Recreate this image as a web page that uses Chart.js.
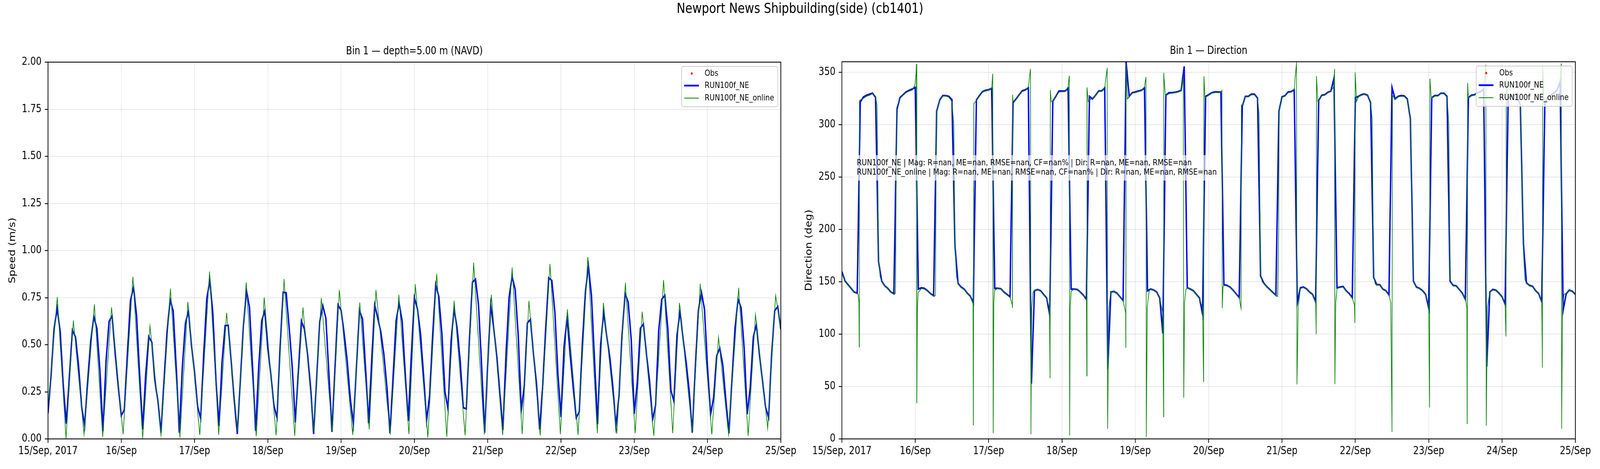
<!DOCTYPE html>
<html><head><meta charset="utf-8">
<script src="https://cdn.jsdelivr.net/npm/chart.js@4.4.1/dist/chart.umd.min.js"></script>
<style>
html,body{margin:0;padding:0;background:#fff;overflow:hidden;width:100vw;height:100vh;}
#wrap{position:absolute;left:0;top:0;width:5000px;height:1200px;overflow:hidden;background:#fff;transform-origin:0 0;}
#sup{position:absolute;left:0;top:0;width:5000px;text-align:center;font-family:'DejaVu Sans';font-size:36px;line-height:42px;color:#000;}
canvas{position:absolute;top:0;}
</style></head><body>
<div id="wrap">
<canvas id="c1" width="2500" height="1200" style="left:0"></canvas>
<canvas id="c2" width="2500" height="1200" style="left:2500px"></canvas>
<div id="sup">Newport News Shipbuilding(side) (cb1401)</div>
</div>
<script>
// ---------------- DATA ----------------
const dayLabels = ["15/Sep, 2017","16/Sep","17/Sep","18/Sep","19/Sep","20/Sep","21/Sep","22/Sep","23/Sep","24/Sep","25/Sep"];
const speedTicks = [0,0.25,0.5,0.75,1.0,1.25,1.5,1.75,2.0];
const dirTicks = [0,50,100,150,200,250,300,350];
const seriesNames = ["Obs","RUN100f_NE","RUN100f_NE_online"];
const statsLines = [
 "RUN100f_NE | Mag: R=nan, ME=nan, RMSE=nan, CF=nan% | Dir: R=nan, ME=nan, RMSE=nan",
 "RUN100f_NE_online | Mag: R=nan, ME=nan, RMSE=nan, CF=nan% | Dir: R=nan, ME=nan, RMSE=nan"
];
// Obs: no valid observations (all NaN)
const obsSpeed = [];
const obsDir = [];
// RUN100f_NE speed (m/s), hourly from 15/Sep 00:00
const speedRun100fNE = [
0.137,0.34,0.586,0.693,0.568,0.282,0.081,0.33,0.577,0.541,0.39,0.171,0.071,0.31,0.52,0.649,0.587,0.365,0.04,0.41,
0.624,0.653,0.454,0.28,0.124,0.154,0.45,0.734,0.805,0.655,0.344,0.05,0.344,0.543,0.513,0.31,0.2,0.033,0.31,0.57,
0.739,0.679,0.378,0.033,0.38,0.613,0.679,0.496,0.35,0.171,0.109,0.45,0.744,0.841,0.662,0.31,0.068,0.41,0.601,0.603,
0.41,0.206,0.026,0.31,0.6,0.789,0.696,0.38,0.043,0.38,0.627,0.681,0.48,0.34,0.175,0.113,0.48,0.778,0.776,0.586,
0.378,0.088,0.36,0.625,0.582,0.448,0.275,0.026,0.323,0.624,0.707,0.641,0.344,0.037,0.378,0.711,0.682,0.558,0.413,0.213,
0.078,0.378,0.681,0.637,0.378,0.083,0.413,0.711,0.641,0.568,0.448,0.275,0.03,0.323,0.627,0.72,0.624,0.344,0.095,0.448,
0.75,0.689,0.558,0.337,0.099,0.233,0.558,0.819,0.755,0.558,0.251,0.159,0.517,0.691,0.586,0.413,0.166,0.159,0.517,0.831,
0.848,0.71,0.392,0.033,0.392,0.711,0.586,0.434,0.24,0.048,0.448,0.751,0.862,0.793,0.551,0.152,0.282,0.615,0.634,0.448,
0.29,0.05,0.275,0.586,0.855,0.841,0.675,0.344,0.116,0.489,0.641,0.448,0.275,0.113,0.144,0.503,0.779,0.918,0.758,0.413,
0.078,0.503,0.672,0.544,0.434,0.275,0.068,0.227,0.551,0.771,0.727,0.53,0.133,0.302,0.587,0.61,0.448,0.31,0.102,0.178,
0.572,0.741,0.762,0.586,0.258,0.199,0.551,0.677,0.53,0.406,0.254,0.033,0.378,0.682,0.778,0.689,0.378,0.13,0.22,0.441,
0.482,0.392,0.206,0.03,0.31,0.586,0.741,0.696,0.482,0.131,0.275,0.541,0.606,0.448,0.31,0.168,0.113,0.448,0.681,0.702,
0.582];
// RUN100f_NE_online speed: [hour, m/s] at turning points
const speedOnline = [
[0,0.16],[3.04,0.753],[5.9,0.002],[8.3,0.629],[11.8,0.023],[15.2,0.715],[17.9,0.011],[20.8,0.698],[24.6,0.024],[27.8,0.861],
[31.0,0.002],[33.4,0.6],[37.0,0.021],[40.1,0.798],[43.2,0.006],[45.8,0.727],[49.7,0.021],[52.9,0.889],[55.9,0.021],[58.5,0.669],
[62.1,0.04],[64.9,0.831],[68.2,0.014],[70.8,0.751],[74.7,0.019],[77.3,0.849],[80.8,0.016],[83.5,0.698],[87.1,0.037],[89.5,0.748],
[93.1,0.037],[95.4,0.791],[99.8,0.021],[102.1,0.724],[105.2,0.05],[107.4,0.791],[112.1,0.023],[114.9,0.765],[118.2,0.026],[120.3,0.822],
[124.4,0.006],[127.3,0.877],[130.6,0.011],[133.0,0.734],[136.6,0.019],[139.4,0.936],[142.9,0.023],[145.2,0.765],[148.9,0.021],[152.0,0.91],
[155.3,0.026],[157.5,0.732],[161.2,0.018],[164.4,0.929],[167.8,0.025],[170.1,0.688],[173.6,0.021],[176.8,0.965],[179.9,0.03],[181.9,0.722],
[186.3,0.028],[189.1,0.829],[192.3,0.031],[194.6,0.675],[198.4,0.016],[201.6,0.843],[204.6,0.031],[206.8,0.722],[211.0,0.037],[213.6,0.824],
[217.4,0.024],[219.6,0.539],[222.9,0.021],[226.2,0.802],[229.3,0.016],[231.7,0.66],[235.7,0.055],[238.3,0.762],[240,0.59]];
// RUN100f_NE direction (deg), hourly from 15/Sep 00:00
const dirRun100fNE = [
159.6,150.7,147.2,143.7,140.2,139.1,321.5,326.2,328,329,330,326.2,168.9,150.7,146.1,143.7,140.2,138.6,314.5,325.7,
328.5,331.1,332.7,333.9,335.5,143,144.2,143.7,141.4,138.6,136.7,312.9,323.4,327.6,327.6,326.9,323.8,183.4,148.4,144.9,
143,139.1,136.3,129.7,323.4,327.6,331.5,332.7,333.2,334.6,143.7,143.7,143.3,140.2,137.9,135.6,321,324.5,328.5,332.2,
333.2,335,52.7,141.4,142.6,141.4,137.9,134.4,118.1,322.2,326.9,332,332,332,334.6,143,143,142.6,140.2,137.2,
133.2,326.9,324.5,328,332,332.2,335,66.7,140.2,140.7,139.1,135.6,132,359.6,326.9,330.4,331.1,332,332.7,335,
141.4,143,142.1,140.2,134.4,100.6,328,330.4,330.4,330.8,331.5,332.7,355.6,144.2,143,141.4,137.9,134.4,119.2,326.9,
328.5,330.4,331.1,331.1,331.1,147.2,146.5,144.9,141.9,138.4,134.9,317.6,326.9,326.9,329,329,325.2,155.4,148.9,145.4,
142.6,139.8,137.2,312.9,326.4,327.6,331.1,331.5,333.2,129.7,144.2,144.9,143.3,140.2,137.9,130.9,322.9,328,328.5,330.8,
332,344.4,144.2,144.9,145.4,141.4,138.6,134.9,325.7,326.9,328.5,329.2,328,321,154.2,147.2,147.2,143,141.4,137.4,
335.5,324.5,326.9,327.6,327.4,324.5,305.9,150.7,144.9,143.7,141.4,137.9,125.1,325.7,327.6,327.6,329.9,329.9,326.9,150.7,
146.5,146.1,142.6,139.1,133.2,325.7,328,328.5,330.4,331.5,334,69,140.2,142.6,141.9,139.1,135.6,128.6,325,327,
328,329,318,185.7,148.9,146.5,145.6,141.4,138.6,130.9,320,326,328,330,333,341,122.7,138.6,141.9,140.9,
137.9];
// RUN100f_NE_online direction: [hour, deg]
const dirOnline = [
[0,158],[1,150],[2,147],[4,140.5],[5.3,138],[5.55,130],[5.66,87.7],[5.72,323],[7,325],[8,327],[9,328],[10,329.5],[11,327],[11.5,318],
[12,172],[12.5,155],[13,150],[14,146],[15,143.5],[16,140],[17,138],[17.5,139],[17.9,316],[19,325],[20,328],[21,330.5],[22,332],[23,333],
[23.9,338],[24.3,350],[24.4,357.9],[24.5,34],[24.7,125],[25,140],[26,143.5],[27,143],[28,141],[29,138.5],[30,136],[30.6,137],[30.9,300],[31,313],
[32,323],[33,327],[34,327.5],[35,326],[36,322],[36.6,300],[37,183],[37.5,155],[38,148],[39,144.5],[40,142.8],[41,139],[42,136],[42.9,130],
[43.0,13],[43.15,320],[44,323],[45,327],[46,331],[47,332],[48,333],[49,335],[49.35,348.6],[49.5,5.6],[49.7,130],[50,142],[51,143.5],[52,143],
[53,140],[54,137.5],[55,135],[55.75,128],[55.8,125],[55.85,328.5],[56,322],[57,324],[58,328],[59,331.5],[60,332.5],[61,336],[61.7,353.2],
[61.85,4.4],[62.1,125],[62.5,140],[63,141.5],[64,142.5],[65,141],[66,137.5],[67,134],[67.9,125],[68.1,57.9],[68.2,333.2],[68.5,322],[69,322],
[70,326.5],[71,331],[72,331.5],[73,331.5],[74,336],[74.4,346.7],[74.5,3.3],[74.7,125],[75,141],[76,143],[77,142.5],[78,140],[79,137],[80,133],
[80.15,60.2],[80.2,335.5],[80.6,322],[81,324],[82,324.5],[83,328],[84,331.5],[85,332],[86,336],[86.8,354.2],[86.95,9.6],[87.3,125],[88,140],
[89,140.5],[90,139],[91,135.5],[92,132],[92.85,120],[92.9,87],[93.0,358],[93.4,324.5],[94,326.5],[95,330],[96,330.5],[97,331.5],[98,332.5],
[99,336],[99.5,345.5],[99.6,1.9],[99.9,125],[100.5,141],[101,142.8],[102,142],[103,140],[104,134],[105,120],[105.25,21.2],[105.3,349.5],
[105.8,328],[106,327.5],[107,329.5],[108,330],[109,330.5],[110,331],[111,333],[111.7,345],[111.85,39.4],[112.1,130],[112.6,143],[113,144],
[114,143],[115,141],[116,137.5],[117,134],[118,125],[118.35,54.4],[118.45,346.2],[118.8,325.7],[119,326],[120,328],[121,330],[122,330.5],
[123,330.5],[124,331],[124.35,332.7],[124.45,124.6],[124.7,145],[125,146.5],[126,146],[127,144.5],[128,141.5],[129,138],[130,134.5],
[130.6,124.6],[130.7,318.7],[131,318],[132,326.5],[133,326.5],[134,328.5],[135,328.5],[136,325],[136.5,310],[137,158],[137.5,150],[138,148.5],
[139,145],[140,142.3],[141,139.5],[142,137],[142.6,136],[142.9,200],[143.1,314],[144,326],[145,327.2],[146,330.5],[147,331],[148,334],
[148.75,359.5],[148.9,52],[149.3,125],[150,143.5],[151,144.5],[152,143],[153,140],[154,137.5],[155,131],[155.2,99.9],[155.3,346.2],[155.7,322],
[156,322.5],[157,327.5],[158,328],[159,330.5],[160,332],[160.9,336],[161.2,353.2],[161.3,52.3],[161.6,130],[162,143.5],[163,144.5],[164,145],
[165,141],[166,138],[167,134],[167.7,128],[167.85,110.6],[167.95,349.8],[168.4,322],[169,326.5],[170,328],[171,329],[172,328],[173,322],
[173.5,305],[174,156],[174.5,148],[175,147],[176,147],[177,143],[178,141],[179,137],[179.6,130],[180.0,6.5],[180.15,328],[181,324],[182,326.5],
[183,327],[184,327],[185,324],[186,308],[186.6,200],[187,152],[188,144.5],[189,143.5],[190,141],[191,137.5],[192,128],[192.3,29.9],[192.4,343.9],
[192.8,327],[193,325.5],[194,327.2],[195,327.2],[196,329.5],[197,329.5],[198,326.5],[198.6,300],[199,152],[200,146],[201,145.8],[202,142.3],
[203,138.5],[204,134],[204.5,125],[204.6,14.2],[204.75,339.7],[205,325.5],[206,327.5],[207,328],[208,330],[209,331],[210,334],[210.7,357.2],
[210.85,12.6],[211.2,125],[212,140],[213,142.3],[214,141.5],[215,138.8],[216,135],[217,128],[217.3,97.8],[217.4,345],[217.8,326],[218,325],
[219,326.5],[220,327.5],[221,328.5],[222,318],[222.5,250],[223,180],[223.5,152],[224,148.5],[225,146.2],[226,145.3],[227,141],[228,138.3],
[229,131],[229.2,67.9],[229.3,356],[229.7,322],[230,320],[231,325.5],[232,327.5],[233,329.5],[234,333],[235,342],[235.4,358.4],[235.5,9.6],
[235.8,125],[236.3,138],[237,139],[238,141.5],[239,140.5],[240,137.5]];

// ---------------- FIT DESIGN (5000x1200) TO THE ACTUAL WINDOW ----------------
(function(){
  const sx = (window.innerWidth || 5000) / 5000, sy = (window.innerHeight || 1200) / 1200;
  if (Math.abs(sx - 1) > 1e-3 || Math.abs(sy - 1) > 1e-3) {
    document.getElementById('wrap').style.transform = 'scale(' + sx + ',' + sy + ')';
  }
})();

// ---------------- CHARTS ----------------
const FAM = "'DejaVu Sans'";
Chart.defaults.font.family = "DejaVu Sans";
Chart.defaults.color = '#000';
const COL_OBS = '#ff0000', COL_RUN = '#0000ff', COL_ONL = '#008000';
const GRID = 'rgba(176,176,176,0.3)';

function decorPlugin(o){
  return {
    id:'decor'+o.id,
    afterDatasetsDraw(chart){
      const ctx = chart.ctx, a = chart.chartArea;
      ctx.save();
      // stats text box
      if (o.stats){
        ctx.font = '22px ' + FAM;
        const tx = a.left + 46.5, ty = a.top + 259, lh = 24;
        let w = 0; o.stats.forEach(s=>{ w = Math.max(w, ctx.measureText(s).width); });
        ctx.fillStyle = 'rgba(255,255,255,0.65)';
        ctx.fillRect(tx - 10, ty - 20, w + 20, 65);
        ctx.fillStyle = '#000'; ctx.textAlign = 'left'; ctx.textBaseline = 'middle';
        o.stats.forEach((s,i)=>ctx.fillText(s, tx, ty + i*lh));
      }
      // frame (spines)
      ctx.strokeStyle = '#000'; ctx.lineWidth = 2.2;
      ctx.strokeRect(a.left, a.top, a.right - a.left, a.bottom - a.top);
      // subplot title
      ctx.fillStyle = '#000'; ctx.font = '27.8px ' + FAM;
      ctx.textAlign = 'center'; ctx.textBaseline = 'middle';
      ctx.fillText(o.title, (a.left + a.right)/2, a.top - 27);
      // legend
      const W = 300, H = 103, lx = a.right - 10 - W, ly = a.top + 11;
      ctx.beginPath();
      if (ctx.roundRect) ctx.roundRect(lx, ly, W, H, 5); else ctx.rect(lx, ly, W, H);
      ctx.fillStyle = 'rgba(255,255,255,0.8)'; ctx.fill();
      ctx.strokeStyle = '#cccccc'; ctx.lineWidth = 2; ctx.stroke();
      const ds = chart.data.datasets;
      const rows = [ly + 18, ly + 49, ly + 81];
      ctx.beginPath(); ctx.arc(lx + 31.5, rows[0], 3, 0, Math.PI*2);
      ctx.fillStyle = ds[0].pointBackgroundColor; ctx.fill();
      [1,2].forEach(k=>{
        ctx.beginPath(); ctx.moveTo(lx + 8, rows[k]); ctx.lineTo(lx + 54, rows[k]);
        ctx.strokeStyle = ds[k].borderColor; ctx.lineWidth = ds[k].borderWidth; ctx.stroke();
      });
      ctx.fillStyle = '#000'; ctx.font = '22px ' + FAM; ctx.textAlign = 'left'; ctx.textBaseline = 'middle';
      ds.forEach((d,k)=>ctx.fillText(d.label, lx + 72, rows[k]));
      ctx.restore();
    }
  };
}

function makeChart(canvasId, cfg){
  const yTickVals = cfg.yTicks;
  return new Chart(document.getElementById(canvasId), {
    type: 'line',
    data: { datasets: [
      { label: seriesNames[0], data: cfg.obs, showLine:false, pointRadius:3, pointBackgroundColor: COL_OBS, borderColor: COL_OBS, order:0 },
      { label: seriesNames[1], data: cfg.run.map((v,i)=>({x:i, y:v})), borderColor: COL_RUN, borderWidth: 4.5, pointRadius:0, tension:0, order:2, clip:0 },
      { label: seriesNames[2], data: cfg.onl.map(p=>({x:p[0], y:p[1]})), borderColor: COL_ONL, borderWidth: 2, pointRadius:0, tension:0, order:1, clip:0 }
    ]},
    options: {
      responsive:false, animation:false, devicePixelRatio:1,
      layout: { padding: { left:0, right: cfg.padRight, top: cfg.padTop, bottom:0 } },
      plugins: { legend:{display:false}, tooltip:{enabled:false}, title:{display:false} },
      scales: {
        x: {
          type:'linear', min:0, max:(dayLabels.length-1)*24,
          afterBuildTicks: ax => { ax.ticks = dayLabels.map((_,i)=>({value:i*24})); },
          ticks: { autoSkip:false, maxRotation:0, minRotation:0, padding:5, color:'#000',
                   font:{size:27.8, family:'DejaVu Sans'}, callback: v => dayLabels[Math.round(v/24)] },
          grid: { color: GRID, lineWidth:2, tickColor:'#000', tickLength:10, tickWidth:2.2, drawTicks:true },
          border: { display:false },
          afterFit: s => { s.height = 77; }
        },
        y: {
          type:'linear', min: yTickVals[0], max: cfg.yMax,
          afterBuildTicks: ax => { ax.ticks = yTickVals.map(v=>({value:v})); },
          ticks: { padding:10, color:'#000', font:{size:27.8, family:'DejaVu Sans'}, callback: cfg.fmt },
          grid: { color: GRID, lineWidth:2, tickColor:'#000', tickLength:10, tickWidth:2.2, drawTicks:true },
          border: { display:false },
          title: { display:true, text: cfg.yTitle, color:'#000', font:{size:27.8, family:'DejaVu Sans'}, padding:{top:cfg.titlePad, bottom:0} },
          afterFit: s => { s.width = cfg.yWidth; }
        }
      }
    },
    plugins: [decorPlugin({id:canvasId, title: cfg.title, stats: cfg.stats})]
  });
}

makeChart('c1', {
  obs: obsSpeed, run: speedRun100fNE, onl: speedOnline,
  yTicks: speedTicks, yMax: 2.0, fmt: v => Number(v).toFixed(2),
  yTitle: 'Speed (m/s)', title: 'Bin 1 \u2014 depth=5.00 m (NAVD)',
  padRight: 60, padTop: 159, yWidth: 150, titlePad: 23, stats: null
});
makeChart('c2', {
  obs: obsDir, run: dirRun100fNE, onl: dirOnline,
  yTicks: dirTicks, yMax: 360, fmt: v => String(v),
  yTitle: 'Direction (deg)', title: 'Bin 1 \u2014 Direction',
  padRight: 77, padTop: 158, yWidth: 131, titlePad: 12, stats: statsLines
});
</script>
</body></html>
